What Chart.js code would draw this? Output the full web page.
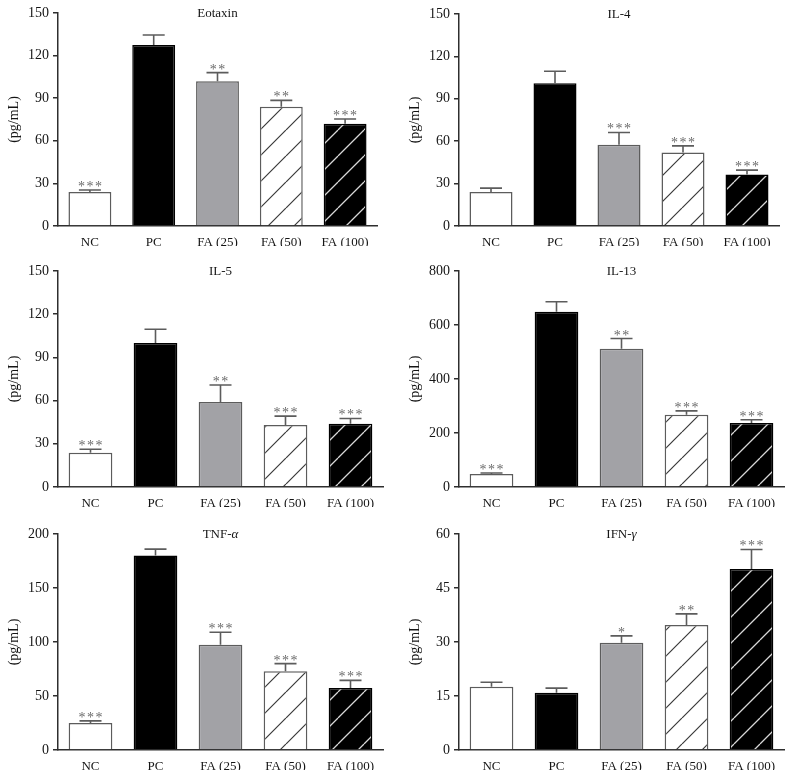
<!DOCTYPE html>
<html><head><meta charset="utf-8">
<script src="https://cdn.jsdelivr.net/npm/chart.js@4.4.0/dist/chart.umd.min.js"></script>
<style>
html,body{margin:0;padding:0;background:#fff;}
#wrap{position:relative;width:792px;height:778px;overflow:hidden;background:#fff;}
canvas{position:absolute;}
</style></head><body><div id="wrap"></div>
<script>
// ---- data ----
const categories = ['NC', 'PC', 'FA (25)', 'FA (50)', 'FA (100)'];

const eotaxinMean = [24, 127.5, 102, 84, 72];
const eotaxinErr  = [1.3, 7, 6, 4.5, 3.3];
const eotaxinStars = ['***', '', '**', '**', '***'];

const il4Mean = [24, 101, 57.5, 52, 36.5];
const il4Err  = [2.8, 8.5, 8.7, 4.7, 3];
const il4Stars = ['', '', '***', '***', '***'];

const il5Mean = [23.8, 100, 59, 43, 44];
const il5Err  = [2.4, 9.5, 11.8, 6.2, 3.6];
const il5Stars = ['***', '', '**', '***', '***'];

const il13Mean = [48, 649, 512, 268, 237];
const il13Err  = [4, 37, 38, 14, 12];
const il13Stars = ['***', '', '**', '***', '***'];

const tnfMean = [25, 180, 97.5, 73, 57.5];
const tnfErr  = [2, 6, 11.5, 7, 7];
const tnfStars = ['***', '', '***', '***', '***'];

const ifnMean = [17.6, 15.9, 29.8, 34.7, 50.3];
const ifnErr  = [1.2, 1.3, 1.9, 3.1, 5.4];
const ifnStars = ['', '', '*', '**', '***'];

const yAxisMax  = [150, 150, 150, 800, 200, 60];
const yAxisStep = [30, 30, 30, 200, 50, 15];
const titlesMain = ['Eotaxin', 'IL-4', 'IL-5', 'IL-13', 'TNF-', 'IFN-'];
const titlesItalic = ['', '', '', '', 'α', 'γ'];
const yTitle = '(pg/mL)';

// ---- styling / layout ----
const SERIF = '"Liberation Serif", "DejaVu Serif", serif';
const AXIS = '#2e2e2e';
const TEXT = '#151515';
const EDGE = '#5c5c5c';

function hatch(bg, fg, lw) {
  const s = 26;
  const c = document.createElement('canvas');
  c.width = s; c.height = s;
  const g = c.getContext('2d');
  g.fillStyle = bg; g.fillRect(0, 0, s, s);
  g.strokeStyle = fg; g.lineWidth = lw;
  g.beginPath();
  for (const k of [-s, 0, s]) { g.moveTo(k, s); g.lineTo(k + s, 0); }
  g.stroke();
  return g.createPattern(c, 'repeat');
}

const fills = ['#ffffff', '#000000', '#a2a2a6', hatch('#ffffff', '#3a3a3a', 1.2), hatch('#000000', '#d8d8d8', 1.3)];
const edges = [EDGE, '#000000', EDGE, EDGE, '#000000'];

const geom = [
  {x0: 0,   y0: 0,   W: 396, H: 262, T: 13,  B: 226, R: 377, YW: 58, tp: 7},
  {x0: 396, y0: 0,   W: 396, H: 262, T: 14,  B: 226, R: 779, YW: 63, tp: 12},
  {x0: 0,   y0: 250, W: 396, H: 268, T: 271, B: 487, R: 383, YW: 58, tp: 7},
  {x0: 396, y0: 250, W: 396, H: 268, T: 271, B: 487, R: 784, YW: 63, tp: 12},
  {x0: 0,   y0: 510, W: 396, H: 268, T: 534, B: 750, R: 383, YW: 58, tp: 7},
  {x0: 396, y0: 510, W: 396, H: 268, T: 534, B: 750, R: 784, YW: 63, tp: 12}
];

const means = [eotaxinMean, il4Mean, il5Mean, il13Mean, tnfMean, ifnMean];
const errs = [eotaxinErr, il4Err, il5Err, il13Err, tnfErr, ifnErr];
const stars = [eotaxinStars, il4Stars, il5Stars, il13Stars, tnfStars, ifnStars];

function makeAnnot(idx) {
  return {
    id: 'annot' + idx,
    afterDatasetsDraw(chart) {
      const ctx = chart.ctx;
      const ys = chart.scales.y;
      const meta = chart.getDatasetMeta(0);
      const vals = chart.data.datasets[0].data;
      ctx.save();
      meta.data.forEach((bar, i) => {
        const v = vals[i];
        const topY = ys.getPixelForValue(v);
        const capY = ys.getPixelForValue(v + errs[idx][i]);
        const x = bar.x;
        ctx.strokeStyle = EDGE;
        ctx.lineWidth = 1.6;
        ctx.beginPath();
        ctx.moveTo(x, topY); ctx.lineTo(x, capY);
        ctx.moveTo(x - 11, capY); ctx.lineTo(x + 11, capY);
        ctx.stroke();
        const s = stars[idx][i];
        if (s) {
          ctx.fillStyle = '#6a6a6a';
          ctx.font = '14px ' + SERIF;
          ctx.textAlign = 'center';
          ctx.textBaseline = 'alphabetic';
          ctx.letterSpacing = '1.5px';
          ctx.fillText(s, x + 0.75, capY + 1);
          ctx.letterSpacing = '0px';
        }
      });
      // panel title
      const ca = chart.chartArea;
      const cx = (ca.left + ca.right) / 2;
      const ty = ca.top + 1;
      ctx.fillStyle = TEXT;
      ctx.textBaseline = 'middle';
      ctx.font = '13px ' + SERIF;
      const a = titlesMain[idx];
      const wa = ctx.measureText(a).width;
      ctx.font = 'italic 13px ' + SERIF;
      const b = titlesItalic[idx];
      const wb = b ? ctx.measureText(b).width : 0;
      const start = cx - (wa + wb) / 2;
      ctx.textAlign = 'left';
      ctx.font = '13px ' + SERIF;
      ctx.fillText(a, start, ty);
      if (b) { ctx.font = 'italic 13px ' + SERIF; ctx.fillText(b, start + wa, ty); }
      ctx.restore();
    }
  };
}

const wrap = document.getElementById('wrap');
geom.forEach((g, idx) => {
  const cv = document.createElement('canvas');
  cv.width = g.W; cv.height = g.H;
  cv.style.left = g.x0 + 'px'; cv.style.top = g.y0 + 'px';
  cv.style.width = g.W + 'px'; cv.style.height = g.H + 'px';
  wrap.appendChild(cv);
  new Chart(cv, {
    type: 'bar',
    data: {
      labels: categories,
      datasets: [{
        data: means[idx],
        backgroundColor: fills,
        borderColor: edges,
        borderWidth: 1.5,
        borderSkipped: 'start',
        barPercentage: 0.672,
        categoryPercentage: 1
      }]
    },
    options: {
      responsive: false,
      animation: false,
      devicePixelRatio: 1,
      layout: {padding: {left: 0, top: g.T - g.y0, right: g.x0 + g.W - g.R, bottom: g.y0 + g.H - g.B - 20}},
      plugins: {legend: {display: false}, tooltip: {enabled: false}, title: {display: false}},
      scales: {
        x: {
          grid: {display: false},
          border: {display: true, color: AXIS, width: 1.5},
          ticks: {color: TEXT, font: {family: SERIF, size: 13}, padding: 1, maxRotation: 0, autoSkip: false},
          afterFit(s) { s.height = 20; }
        },
        y: {
          min: 0, max: yAxisMax[idx],
          ticks: {stepSize: yAxisStep[idx], color: TEXT, font: {family: SERIF, size: 14}, padding: 4},
          grid: {drawOnChartArea: false, drawTicks: true, tickLength: 5, color: AXIS, lineWidth: 1.5},
          border: {display: true, color: AXIS, width: 1.5},
          title: {display: true, text: yTitle, color: TEXT, font: {family: SERIF, size: 14}, padding: {top: g.tp - 1, bottom: 0}},
          afterFit(s) { s.width = g.YW; }
        }
      }
    },
    plugins: [makeAnnot(idx)]
  });
});
</script></body></html>
